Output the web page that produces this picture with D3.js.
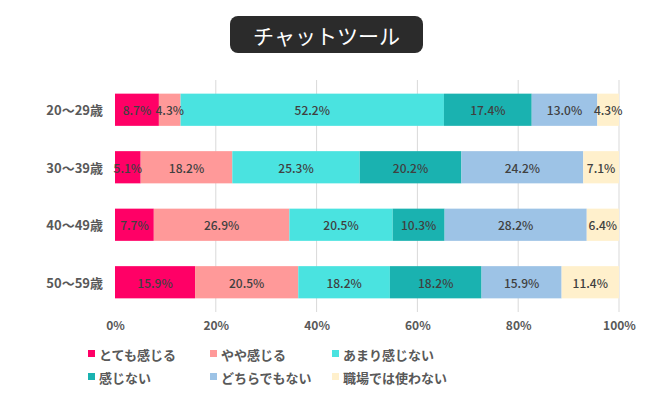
<!DOCTYPE html>
<html>
<head>
<meta charset="utf-8">
<script src="https://d3js.org/d3.v7.min.js"></script>
<style>
  body { margin: 0; background: #fff; }
  text { font-family: "Noto Sans CJK JP", "Noto Sans", sans-serif; }
</style>
</head>
<body>
<div id="chart"></div>
<script>
const title = "チャットツール";
const ageGroups = ["20〜29歳", "30〜39歳", "40〜49歳", "50〜59歳"];
const answers = ["とても感じる", "やや感じる", "あまり感じない", "感じない", "どちらでもない", "職場では使わない"];
const colors = ["#ff0066", "#ff9999", "#4ae3e0", "#1ab2b0", "#9dc3e6", "#fff0cc"];
// percentages per age group, in answer order
const shares = [
  [8.7, 4.3, 52.2, 17.4, 13.0, 4.3],
  [5.1, 18.2, 25.3, 20.2, 24.2, 7.1],
  [7.7, 26.9, 20.5, 10.3, 28.2, 6.4],
  [15.9, 20.5, 18.2, 18.2, 15.9, 11.4],
];
const xTicks = [0, 0.2, 0.4, 0.6, 0.8, 1];

const width = 653, height = 400;
const svg = d3.select("#chart").append("svg")
  .attr("width", width).attr("height", height);

// title box
const tg = svg.append("g");
tg.append("rect")
  .attr("x", 230).attr("y", 16).attr("width", 193).attr("height", 37)
  .attr("rx", 8).attr("fill", "#2b2b2b");
tg.append("text")
  .attr("x", 326.5).attr("y", 35)
  .attr("text-anchor", "middle").attr("dominant-baseline", "central")
  .attr("fill", "#fff").attr("font-size", 21).attr("font-weight", 400)
  .text(title);

const x = d3.scaleLinear().domain([0, 1]).range([115, 619]);
const y = d3.scaleBand().domain(ageGroups).range([81, 311]).paddingInner(0.44).paddingOuter(0.22);

// gridlines
svg.append("g").selectAll("line").data(xTicks.slice(1)).join("line")
  .attr("x1", d => x(d)).attr("x2", d => x(d))
  .attr("y1", 80).attr("y2", 312)
  .attr("stroke", "#d9d9d9").attr("stroke-width", 1);

// stacked rows
const rows = ageGroups.map((g, i) => {
  const total = d3.sum(shares[i]);
  let acc = 0;
  return shares[i].map((v, j) => {
    const seg = { group: g, j, v, x0: acc / total, x1: (acc + v) / total };
    acc += v;
    return seg;
  });
}).flat();

svg.append("g").selectAll("rect").data(rows).join("rect")
  .attr("x", d => x(d.x0))
  .attr("width", d => x(d.x1) - x(d.x0))
  .attr("y", d => y(d.group))
  .attr("height", y.bandwidth())
  .attr("fill", d => colors[d.j]);

svg.append("g").selectAll("text").data(rows).join("text")
  .attr("x", d => (x(d.x0) + x(d.x1)) / 2)
  .attr("y", d => y(d.group) + y.bandwidth() / 2)
  .attr("text-anchor", "middle").attr("dominant-baseline", "central")
  .attr("font-size", 12).attr("font-weight", 500).attr("fill", "#404040")
  .text(d => d.v.toFixed(1) + "%");

// y axis labels
svg.append("g").selectAll("text").data(ageGroups).join("text")
  .attr("x", 103)
  .attr("y", d => y(d) + y.bandwidth() / 2)
  .attr("text-anchor", "end").attr("dominant-baseline", "central")
  .attr("font-size", 13).attr("font-weight", "bold").attr("fill", "#595959")
  .text(d => d);

// x axis
const xAxis = svg.append("g").attr("transform", "translate(0,312)")
  .call(d3.axisBottom(x).tickValues(xTicks).tickFormat(d3.format(".0%")).tickSize(0).tickPadding(9));
xAxis.select(".domain").remove();
xAxis.selectAll("text")
  .attr("font-size", 12).attr("font-weight", "bold").attr("fill", "#595959")
  .style("font-family", "'Noto Sans CJK JP', sans-serif");

// legend
const legendX = [88, 210, 332];
const leg = svg.append("g").selectAll("g").data(answers).join("g")
  .attr("transform", (d, i) => `translate(${legendX[i % 3]},${354 + Math.floor(i / 3) * 23})`);
leg.append("rect")
  .attr("x", 0).attr("y", -4).attr("width", 7).attr("height", 7)
  .attr("fill", (d, i) => colors[i]);
leg.append("text")
  .attr("x", 11).attr("y", 0).attr("dominant-baseline", "central")
  .attr("font-size", 13).attr("font-weight", "bold").attr("fill", "#595959")
  .text(d => d);
</script>
</body>
</html>
